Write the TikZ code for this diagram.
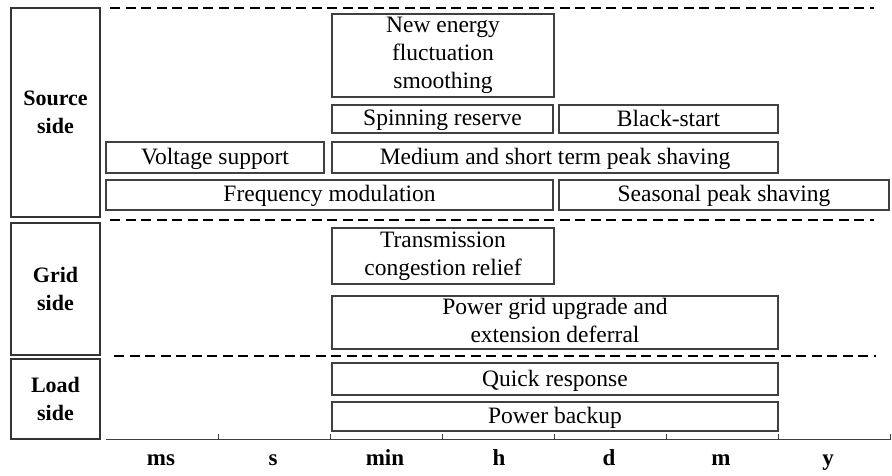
\documentclass[tikz,border=0pt]{standalone}
\usepackage{fontspec}
\setmainfont{Liberation Serif}
\newcommand{\mystrut}{\rule[-5pt]{0pt}{24pt}}
\begin{document}
\begin{tikzpicture}[x=1pt,y=-1pt,
  svc/.style={draw=black!75, line width=1.2pt, inner sep=0pt, align=center,
    font=\fontsize{23.5}{28}\selectfont,
    execute at begin node=\mystrut, execute at end node=\mystrut},
  side/.style={draw=black!80, line width=1.3pt, inner sep=0pt, align=center,
    minimum width=89, font=\fontsize{22}{28}\selectfont\bfseries},
  sep/.style={line width=2.2pt, dash pattern=on 10pt off 5.5pt},
  ax/.style={line width=1.1pt, draw=black!75},
  axlab/.style={font=\fontsize{23}{28}\selectfont\bfseries, inner sep=0pt, anchor=base}]
\useasboundingbox (0,0) rectangle (892,475);
% side labels
\node[side, minimum height=209] (src) at (55.5,112.5) {Source\\side};
\node[side, minimum height=132] (grid) at (55.5,289) {Grid\\side};
\node[side, minimum height=80] (load) at (55.5,399) {Load\\side};
% separators
\coordinate (s1a) at (110,8);   \coordinate (s1b) at (874,8);
\coordinate (s2a) at (110,220); \coordinate (s2b) at (874,220);
\coordinate (s3a) at (114,356); \coordinate (s3b) at (876,356);
\draw[sep] (s1a) -- (s1b);
\draw[sep] (s2a) -- (s2b);
\draw[sep] (s3a) -- (s3b);
% source side
\node[svc, minimum width=222, minimum height=83] (nefs) at (443,55.5) {New energy\\fluctuation\\smoothing};
\node[svc, minimum width=221, minimum height=28] (spin) at (442.5,119) {Spinning reserve};
\node[svc, minimum width=219, minimum height=28] (black) at (668.5,119) {Black-start};
\node[svc, minimum width=218, minimum height=31] (volt) at (215,157.5) {Voltage support};
\node[svc, minimum width=446, minimum height=31] (med) at (555,157.5) {Medium and short term peak shaving};
\node[svc, minimum width=447, minimum height=30] (freq) at (329.5,195) {Frequency modulation};
\node[svc, minimum width=330, minimum height=30] (seas) at (724,195) {Seasonal peak shaving};
% grid side
\node[svc, minimum width=222, minimum height=56] (trans) at (443,256) {Transmission\\congestion relief};
\node[svc, minimum width=446, minimum height=53] (upg) at (555,322.5) {Power grid upgrade and\\extension deferral};
% load side
\node[svc, minimum width=446, minimum height=32] (quick) at (555,379) {Quick response};
\node[svc, minimum width=446, minimum height=29] (backup) at (555,416.5) {Power backup};
% axis
\coordinate (axa) at (106,439.5); \coordinate (axb) at (891,439.5);
\draw[ax] (axa) -- (axb);
\foreach \t in {218,330,442,554,666,778,890}
  \draw[ax, line width=0.9pt] (\t,439.5) -- (\t,434);
\node[axlab] (lms) at (161,465) {ms};
\node[axlab] (ls) at (273,465) {s};
\node[axlab] (lmin) at (385,465) {min};
\node[axlab] (lh) at (499,465) {h};
\node[axlab] (ld) at (609,465) {d};
\node[axlab] (lm) at (721,465) {m};
\node[axlab] (ly) at (828,465) {y};
\end{tikzpicture}
\end{document}
